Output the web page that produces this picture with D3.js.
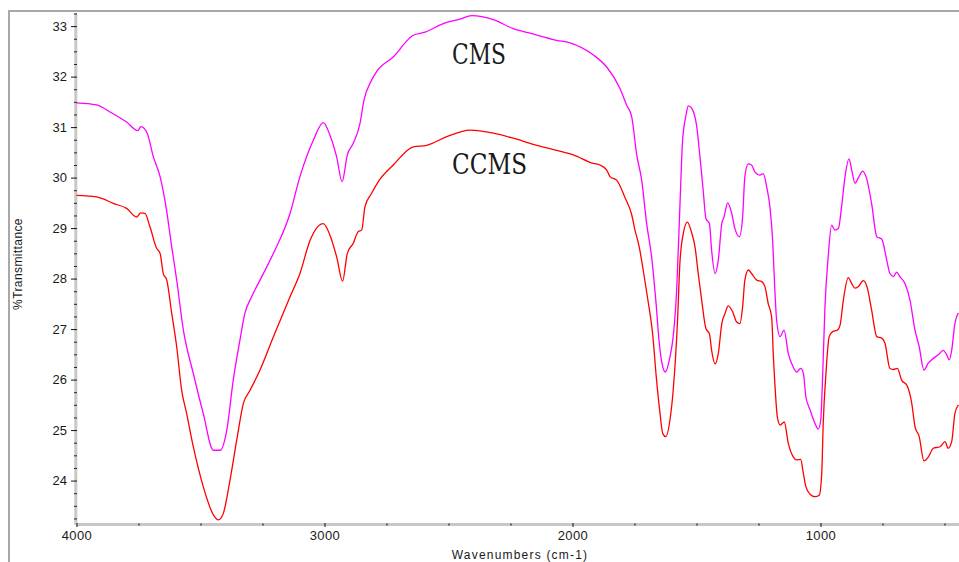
<!DOCTYPE html>
<html>
<head>
<meta charset="utf-8">
<script src="https://cdn.jsdelivr.net/npm/d3@7/dist/d3.min.js"></script>
<style>
  html, body { margin: 0; padding: 0; background: #ffffff; }
  svg { display: block; }
  .tick text { font-family: "Liberation Sans", Arial, sans-serif; fill: #1a1a1a; }
</style>
</head>
<body>
<svg id="chart" width="959" height="562"></svg>
<script>
// ---- Data ----
const cmsWavenumbers = [4000,3919,3865,3798,3753,3740,3715,3690,3663,3639,3616,3596,3569,3529,3489,3448,3421,3394,3368,3341,3321,3294,3260,3206,3139,3099,3045,3005,2978,2951,2929,2908,2884,2857,2841,2810,2790,2723,2642,2595,2521,2454,2406,2319,2239,2171,2064,2010,1916,1862,1809,1782,1761,1741,1721,1701,1681,1663,1650,1636,1626,1607,1594,1580,1567,1556,1542,1533,1519,1499,1486,1473,1462,1448,1439,1425,1412,1398,1389,1374,1358,1345,1327,1314,1305,1291,1278,1264,1244,1231,1217,1204,1193,1184,1177,1163,1147,1130,1110,1096,1080,1069,1059,1042,1022,1009,999,991,982,969,955,942,928,915,901,885,874,861,845,830,814,794,773,753,733,720,706,693,680,659,639,619,602,583,565,545,525,505,491,481,471,458,444];
const cmsTransmittance = [31.48,31.44,31.30,31.10,30.93,31.01,30.88,30.41,30.02,29.42,28.63,27.97,26.98,26.12,25.33,24.60,24.60,25.00,25.99,26.78,27.31,27.64,27.97,28.50,29.29,30.02,30.74,31.09,30.84,30.41,29.92,30.45,30.68,31.07,31.53,31.93,32.10,32.39,32.82,32.88,33.05,33.14,33.21,33.13,32.95,32.86,32.72,32.67,32.43,32.19,31.77,31.44,31.20,30.45,29.95,29.09,28.43,27.51,26.72,26.25,26.15,26.45,26.85,27.77,29.42,30.74,31.24,31.42,31.37,31.01,30.41,29.75,29.19,29.09,28.56,28.10,28.37,29.09,29.22,29.50,29.29,28.99,28.83,29.22,30.02,30.27,30.25,30.11,30.05,30.08,29.82,29.42,28.76,27.77,27.18,26.85,26.98,26.52,26.25,26.15,26.22,26.12,25.66,25.40,25.13,25.02,25.20,26.12,27.44,28.43,29.06,28.96,28.99,29.42,30.02,30.37,30.15,29.89,30.02,30.13,29.98,29.49,28.83,28.78,28.37,28.10,28.04,28.13,28.04,27.90,27.57,26.98,26.65,26.19,26.33,26.42,26.49,26.58,26.49,26.39,26.58,27.11,27.32];

const ccmsWavenumbers = [4000,3919,3898,3852,3798,3757,3741,3724,3704,3677,3663,3650,3636,3616,3596,3576,3556,3529,3489,3448,3428,3408,3381,3354,3327,3300,3260,3206,3139,3099,3058,3005,2978,2951,2927,2908,2884,2864,2850,2837,2810,2779,2723,2642,2588,2507,2413,2319,2239,2158,2064,1997,1916,1889,1862,1849,1822,1788,1761,1748,1731,1715,1698,1677,1661,1647,1636,1624,1607,1594,1577,1567,1553,1537,1519,1506,1493,1479,1462,1448,1439,1425,1412,1398,1385,1372,1354,1338,1325,1314,1305,1291,1278,1257,1237,1224,1211,1197,1190,1184,1174,1163,1146,1130,1110,1096,1080,1069,1059,1042,1022,1005,995,989,978,965,951,932,921,908,888,874,861,848,827,811,794,773,753,740,720,706,690,673,652,632,619,602,583,565,545,518,498,485,471,458,444];
const ccmsTransmittance = [29.65,29.62,29.59,29.49,29.39,29.22,29.30,29.29,29.03,28.60,28.50,28.10,27.97,27.31,26.65,25.79,25.33,24.67,23.88,23.32,23.22,23.35,24.01,24.80,25.53,25.79,26.19,26.85,27.64,28.10,28.76,29.09,28.86,28.43,27.95,28.50,28.70,28.93,28.96,29.42,29.69,29.95,30.25,30.61,30.64,30.81,30.94,30.88,30.78,30.66,30.54,30.45,30.28,30.25,30.15,30.02,29.95,29.60,29.26,28.96,28.63,28.17,27.64,26.91,25.99,25.33,24.93,24.87,25.20,25.79,27.11,28.30,28.90,29.12,28.90,28.63,28.10,27.57,27.01,26.91,26.58,26.31,26.52,27.11,27.31,27.46,27.34,27.14,27.11,27.44,27.97,28.17,28.10,27.97,27.94,27.84,27.51,27.24,26.45,25.92,25.26,25.10,25.16,24.74,24.47,24.41,24.42,24.14,23.88,23.73,23.68,23.71,24.14,25.13,26.12,26.85,26.95,26.98,27.08,27.57,28.02,27.90,27.81,27.84,27.96,27.81,27.38,26.85,26.82,26.72,26.22,26.20,26.22,25.99,25.89,25.53,25.07,24.87,24.39,24.47,24.64,24.67,24.77,24.64,24.77,25.33,25.50];

const xMajorTicks = [4000, 3000, 2000, 1000];
const yMajorTicks = [24, 25, 26, 27, 28, 29, 30, 31, 32, 33];
const seriesLabels = ["CMS", "CCMS"];
const xAxisTitle = "Wavenumbers (cm-1)";
const yAxisTitle = "%Transmittance";

// ---- Layout ----
const svg = d3.select("#chart");
const x = d3.scaleLinear().domain([4000, 441.5]).range([76.5, 959]);
const y = d3.scaleLinear().domain([23.12, 33.26]).range([525, 13]);

// outer frame
svg.append("path")
  .attr("d", "M9,562 L9,11 L959,11")
  .attr("fill", "none").attr("stroke", "#a8a8a8").attr("stroke-width", 2);

// minor tick values
const xMinor = d3.range(4000, 440, -250).filter(v => !xMajorTicks.includes(v));
const yMinor = d3.range(23.25, 33.26, 0.25).filter(v => Math.abs(v - Math.round(v)) > 1e-6);

// Y axis
const yAxisX = 77;
svg.append("line").attr("x1", yAxisX - 1.2).attr("x2", yAxisX - 1.2)
  .attr("y1", 13).attr("y2", 525).attr("stroke", "#c8c8c8").attr("stroke-width", 3);
const gy = svg.append("g").attr("transform", `translate(${yAxisX},0)`)
  .call(d3.axisLeft(y).tickValues(yMajorTicks).tickSize(6).tickPadding(4).tickFormat(d3.format("d")));
gy.select(".domain").remove();
gy.selectAll(".tick line").attr("stroke", "#111").attr("stroke-width", 1);
gy.selectAll(".tick text").attr("font-size", 13);
const gyMinor = svg.append("g").attr("transform", `translate(${yAxisX},0)`)
  .call(d3.axisLeft(y).tickValues(yMinor).tickSize(3).tickFormat(""));
gyMinor.select(".domain").remove();
gyMinor.selectAll(".tick line").attr("stroke", "#222").attr("stroke-width", 1);

// X axis
const xAxisY = 523;
svg.append("line").attr("x1", 76).attr("x2", 959)
  .attr("y1", xAxisY + 1.5).attr("y2", xAxisY + 1.5).attr("stroke", "#c8c8c8").attr("stroke-width", 3);
const gx = svg.append("g").attr("transform", `translate(0,${xAxisY})`)
  .call(d3.axisBottom(x).tickValues(xMajorTicks).tickSize(4).tickPadding(4).tickFormat(d3.format("d")));
gx.select(".domain").remove();
gx.selectAll(".tick line").attr("stroke", "#111").attr("stroke-width", 1);
gx.selectAll(".tick text").attr("font-size", 13).attr("letter-spacing", "0.4px");
const gxMinor = svg.append("g").attr("transform", `translate(0,${xAxisY + 0.5})`)
  .call(d3.axisBottom(x).tickValues(xMinor).tickSize(2).tickFormat(""));
gxMinor.select(".domain").remove();
gxMinor.selectAll(".tick line").attr("stroke", "#222").attr("stroke-width", 1.2);

// Axis titles
svg.append("text")
  .attr("x", 520).attr("y", 559)
  .attr("text-anchor", "middle")
  .attr("font-family", "Liberation Sans, Arial, sans-serif")
  .attr("font-size", 12).attr("letter-spacing", "1.2px").attr("fill", "#1a1a1a")
  .text(xAxisTitle);
svg.append("text")
  .attr("transform", "translate(22,264) rotate(-90)")
  .attr("text-anchor", "middle")
  .attr("font-family", "Liberation Sans, Arial, sans-serif")
  .attr("font-size", 12).attr("letter-spacing", "0.4px").attr("fill", "#1a1a1a")
  .text(yAxisTitle);

// Lines
const clip = svg.append("clipPath").attr("id", "plotclip")
  .append("rect").attr("x", 76).attr("y", 12).attr("width", 884).attr("height", 513);
const line = d3.line().curve(d3.curveMonotoneX).x(d => x(d[0])).y(d => y(d[1]));
const cmsData = cmsWavenumbers.map((w, i) => [w, cmsTransmittance[i]]);
const ccmsData = ccmsWavenumbers.map((w, i) => [w, ccmsTransmittance[i]]);
const plot = svg.append("g").attr("clip-path", "url(#plotclip)");
plot.append("path").datum(cmsData).attr("d", line)
  .attr("fill", "none").attr("stroke", "#ff00ff").attr("stroke-width", 1.3).attr("stroke-linejoin", "round");
plot.append("path").datum(ccmsData).attr("d", line)
  .attr("fill", "none").attr("stroke", "#ff0000").attr("stroke-width", 1.3).attr("stroke-linejoin", "round");

// Series labels
svg.append("text")
  .attr("x", 452).attr("y", 64)
  .attr("font-family", "DejaVu Serif, serif").attr("font-size", 28)
  .attr("textLength", 54).attr("lengthAdjust", "spacingAndGlyphs")
  .attr("fill", "#1a1a1a")
  .text(seriesLabels[0]);
svg.append("text")
  .attr("x", 452).attr("y", 174)
  .attr("font-family", "DejaVu Serif, serif").attr("font-size", 28)
  .attr("textLength", 75).attr("lengthAdjust", "spacingAndGlyphs")
  .attr("fill", "#1a1a1a")
  .text(seriesLabels[1]);
</script>
</body>
</html>
